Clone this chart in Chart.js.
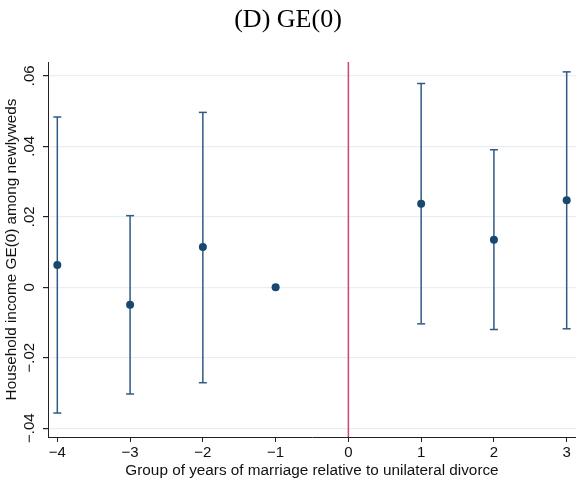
<!DOCTYPE html>
<html>
<head>
<meta charset="utf-8">
<script src="https://cdn.jsdelivr.net/npm/chart.js@4"></script>
<style>
  html, body { margin: 0; padding: 0; background: #fff; }
  #wrap { width: 576px; height: 485px; }
</style>
</head>
<body>
<div id="wrap"><canvas id="ge0Chart" width="576" height="485"></canvas></div>
<script>
'use strict';

// Event-study estimates, year groups relative to unilateral divorce
const years = [-4, -3, -2, -1, 1, 2, 3];
const estimates = [0.0063, -0.0050, 0.0114, 0, 0.0237, 0.0135, 0.0247];
const ciLow = [-0.0357, -0.0303, -0.0271, null, -0.0104, -0.0120, -0.0118];
const ciHigh = [0.0483, 0.0203, 0.0496, null, 0.0578, 0.0390, 0.0611];

const xTicks = [-4, -3, -2, -1, 0, 1, 2, 3];
const xTickLabels = ['\u22124', '\u22123', '\u22122', '\u22121', '0', '1', '2', '3'];
const yTicks = [-0.04, -0.02, 0, 0.02, 0.04, 0.06];
const yTickLabels = ['\u2212.04', '\u2212.02', '0', '.02', '.04', '.06'];
const refLineX = 0;

const navy = '#1a476f';
const barColor = '#2f5a86';
const lineRed = '#d0466a';

// vertical CI segments, broken by null points
const ciSegments = [];
const ciCaps = [];
years.forEach((x, i) => {
  if (ciLow[i] === null) return;
  ciSegments.push({ x: x, y: ciLow[i] }, { x: x, y: ciHigh[i] }, { x: x, y: null });
  ciCaps.push({ x: x, y: ciLow[i] }, { x: x, y: ciHigh[i] });
});

const points = years.map((x, i) => ({ x: x, y: estimates[i] }));

// red reference line at the reform year
const refLine = {
  id: 'refLine',
  beforeDatasetsDraw(chart) {
    const { ctx, chartArea, scales } = chart;
    const px = scales.x.getPixelForValue(refLineX);
    ctx.save();
    ctx.strokeStyle = lineRed;
    ctx.lineWidth = 1.5;
    ctx.beginPath();
    ctx.moveTo(px, chartArea.top);
    ctx.lineTo(px, chartArea.bottom);
    ctx.stroke();
    ctx.restore();
  }
};

const tickFont = { family: 'Liberation Sans', size: 15 };
const titleFont = { family: 'Liberation Sans', size: 15.3 };

new Chart(document.querySelector('#ge0Chart').getContext('2d'), {
  type: 'scatter',
  data: {
    datasets: [
      {
        data: ciSegments,
        showLine: true,
        spanGaps: false,
        borderColor: barColor,
        borderWidth: 1.5,
        pointRadius: 0,
        order: 3
      },
      {
        data: ciCaps,
        pointStyle: 'line',
        pointRadius: 4,
        pointHoverRadius: 4,
        borderColor: barColor,
        borderWidth: 1.5,
        order: 2
      },
      {
        data: points,
        pointStyle: 'circle',
        pointRadius: 4,
        pointBackgroundColor: navy,
        pointBorderColor: navy,
        pointBorderWidth: 0,
        order: 1
      }
    ]
  },
  options: {
    responsive: false,
    devicePixelRatio: 1,
    animation: false,
    layout: { padding: 0, autoPadding: false },
    scales: {
      x: {
        type: 'linear',
        min: -4.128,
        max: 3.128,
        afterBuildTicks: scale => { scale.ticks = xTicks.map(v => ({ value: v })); },
        afterFit: scale => {
          scale.height = 48;
          scale.paddingLeft = 0;
          scale.paddingRight = 0;
        },
        border: { display: true, color: '#222', width: 1 },
        grid: { drawOnChartArea: false, drawTicks: true, tickLength: 5, tickColor: '#222' },
        ticks: {
          padding: 2,
          color: '#111',
          font: tickFont,
          maxRotation: 0,
          callback: (v) => xTickLabels[xTicks.indexOf(v)]
        },
        title: {
          display: true,
          text: 'Group of years of marriage relative to unilateral divorce',
          color: '#111',
          font: titleFont,
          padding: { top: 0, bottom: 5 }
        }
      },
      y: {
        type: 'linear',
        min: -0.0425,
        max: 0.0639,
        afterBuildTicks: scale => { scale.ticks = yTicks.map(v => ({ value: v })); },
        afterFit: scale => {
          scale.width = 48;
          scale.paddingTop = 0;
          scale.paddingBottom = 0;
        },
        border: { display: true, color: '#222', width: 1 },
        grid: { color: '#e8eff2', lineWidth: 1.2, drawTicks: true, tickLength: 5, tickColor: '#222' },
        ticks: {
          padding: -2,
          color: '#111',
          font: tickFont,
          minRotation: 90,
          maxRotation: 90,
          crossAlign: 'center',
          callback: (v) => yTickLabels[yTicks.indexOf(v)]
        },
        title: {
          display: true,
          text: 'Household income GE(0) among newlyweds',
          color: '#111',
          font: titleFont,
          padding: { top: 3, bottom: 0 }
        }
      }
    },
    plugins: {
      legend: { display: false },
      tooltip: { enabled: false },
      title: {
        display: true,
        text: '(D) GE(0)',
        color: '#000',
        font: { family: 'Liberation Serif', size: 26, weight: 'normal' },
        padding: { top: 4.4, bottom: 26.4 }
      }
    }
  },
  plugins: [refLine]
});
</script>
</body>
</html>
